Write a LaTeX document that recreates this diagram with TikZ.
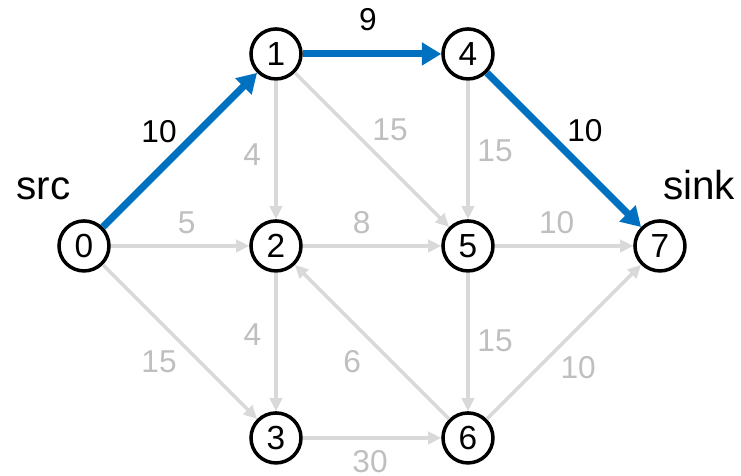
\documentclass[tikz,border=0pt]{standalone}
\usepackage{fontspec}
\setmainfont{Liberation Sans}
\usepackage{tikz}
\usetikzlibrary{arrows.meta, positioning}
\definecolor{flowblue}{RGB}{0,112,192}
\definecolor{edgegray}{RGB}{217,217,217}
\definecolor{lblgray}{RGB}{191,191,191}
\tikzset{
  vertex/.style={circle, draw=black, fill=white, minimum size=1cm,
    inner sep=0pt, line width=2pt, font=\fontsize{19}{21}\selectfont},
  flowarrow/.style={-{Triangle[length=11pt, width=12.5pt]},
    line width=4pt, color=flowblue},
  grayarrow/.style={-{Triangle[length=7.5pt, width=7pt]},
    line width=2pt, color=edgegray},
  flowlbl/.style={font=\fontsize{18}{20}\selectfont, text=black},
  graylbl/.style={font=\fontsize{18}{20}\selectfont, text=lblgray},
  endlbl/.style={font=\fontsize{23}{25}\selectfont}
}

\begin{document}
\begin{tikzpicture}[x=3.84cm, y=3.84cm]
  \useasboundingbox (-0.4375,-1.198) rectangle (3.422,1.281);
  % vertices
  \node[vertex] (n0) at (0,0) {0};
  \node[vertex] (n1) at (1,1) {1};
  \node[vertex] (n2) at (1,0) {2};
  \node[vertex] (n3) at (1,-1) {3};
  \node[vertex] (n4) at (2,1) {4};
  \node[vertex] (n5) at (2,0) {5};
  \node[vertex] (n6) at (2,-1) {6};
  \node[vertex] (n7) at (3,0) {7};
  \node[endlbl] (src) at (-0.21,0.30) {src};
  \node[endlbl] (sink) at (0.203+3,0.315) {sink};
  % gray edges
  \draw[grayarrow] (n0) -- (n2);
  \draw[grayarrow] (n0) -- (n3);
  \draw[grayarrow] (n1) -- (n2);
  \draw[grayarrow] (n1) -- (n5);
  \draw[grayarrow] (n2) -- (n5);
  \draw[grayarrow] (n2) -- (n3);
  \draw[grayarrow] (n4) -- (n5);
  \draw[grayarrow] (n5) -- (n7);
  \draw[grayarrow] (n5) -- (n6);
  \draw[grayarrow] (n3) -- (n6);
  \draw[grayarrow] (n6) -- (n2);
  \draw[grayarrow] (n6) -- (n7);
  % augmenting path
  \draw[flowarrow] (n0) -- (n1);
  \draw[flowarrow] (n1) -- (n4);
  \draw[flowarrow] (n4) -- (n7);
  % capacities
  \node[flowlbl] (c01) at (0.391,0.598) {10};
  \node[flowlbl] (c14) at (1.479,1.177) {9};
  \node[flowlbl] (c47) at (2.609,0.602) {10};
  \node[graylbl] (c12) at (0.876,0.477) {4};
  \node[graylbl] (c15) at (1.594,0.607) {15};
  \node[graylbl] (c45) at (2.141,0.494) {15};
  \node[graylbl] (c02) at (0.535,0.121) {5};
  \node[graylbl] (c25) at (1.446,0.121) {8};
  \node[graylbl] (c57) at (2.462,0.121) {10};
  \node[graylbl] (c23) at (0.877,-0.461) {4};
  \node[graylbl] (c03) at (0.391,-0.605) {15};
  \node[graylbl] (c62) at (1.397,-0.605) {6};
  \node[graylbl] (c56) at (2.141,-0.496) {15};
  \node[graylbl] (c67) at (2.574,-0.634) {10};
  \node[graylbl] (c36) at (1.49,-1.125) {30};
\end{tikzpicture}
\end{document}
